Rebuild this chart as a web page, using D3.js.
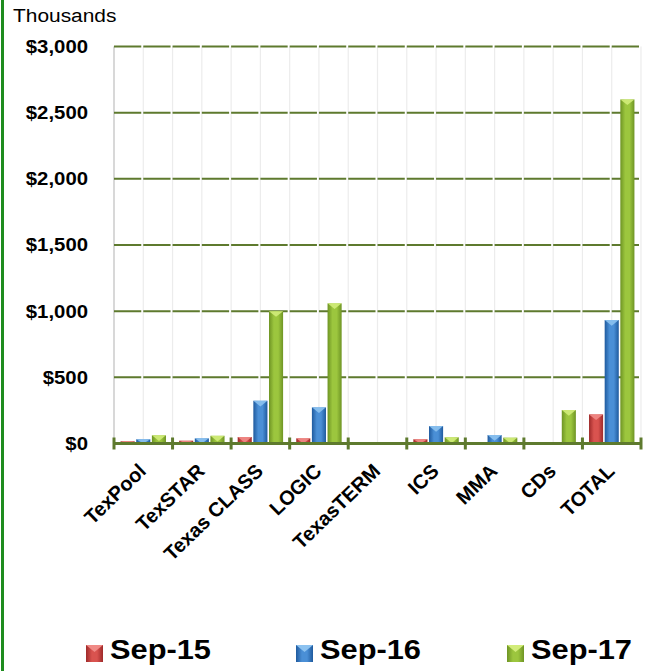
<!DOCTYPE html>
<html>
<head>
<meta charset="utf-8">
<script src="https://cdn.jsdelivr.net/npm/d3@7"></script>
<style>
  body { margin: 0; background: #fff; }
  text { font-family: "Liberation Sans", Arial, sans-serif; }
</style>
</head>
<body>
<div id="chart"></div>
<script>
// values in thousands of dollars
var categories = ["TexPool", "TexSTAR", "Texas CLASS", "LOGIC", "TexasTERM", "ICS", "MMA", "CDs", "TOTAL"];
var seriesNames = ["Sep-15", "Sep-16", "Sep-17"];
var sep15 = [17, 21, 49, 39, 0, 32, 0, 0, 220];
var sep16 = [32, 39, 323, 273, 0, 132, 64, 0, 933];
var sep17 = [62, 58, 1000, 1059, 0, 47, 44, 253, 2600];
var yTicks = [0, 500, 1000, 1500, 2000, 2500, 3000];

var seriesValues = [sep15, sep16, sep17];

var width = 649,
height = 671;

var plotLeft = 114, plotRight = 641, plotTop = 46.5, plotBottom = 443.5;
var stretch = 1.1; // text in the original is a bit wide

// colours: edge, middle, top face
var colors = [
  ['#9e2a2a', '#d9534f', '#f08a86'],
  ['#1f5a9e', '#4a8fd6', '#8cc2f0'],
  ['#6e9424', '#9cc63e', '#d2ec7a']
];

var svg = d3.select("#chart").append("svg")
.attr("width", width)
.attr("height", height);

var defs = svg.append("defs");
colors.forEach(function(c, i) {
  var g = defs.append("linearGradient")
    .attr("id", "grad" + i)
    .attr("x1", "0%").attr("x2", "100%").attr("y1", "0%").attr("y2", "0%");
  g.append("stop").attr("offset", "0%").attr("stop-color", c[0]);
  g.append("stop").attr("offset", "35%").attr("stop-color", c[1]);
  g.append("stop").attr("offset", "65%").attr("stop-color", c[1]);
  g.append("stop").attr("offset", "100%").attr("stop-color", c[0]);
});

// left green border
svg.append("rect")
.attr("x", 1).attr("y", 0)
.attr("width", 3).attr("height", height)
.attr("fill", "#1e8c1e");

var x0 = d3.scaleBand()
.domain(categories)
.range([plotLeft, plotRight])
.padding(0);

var x1 = d3.scaleBand()
.domain(seriesNames)
.range([0, x0.bandwidth()])
.paddingInner(0.1)
.paddingOuter(0.42);

var y = d3.scaleLinear()
.domain([0, 3000])
.range([plotBottom, plotTop]);

// vertical light grid lines every half category
var halfStep = x0.step() / 2;
var vLines = d3.range(0, categories.length * 2 + 1).map(function(i) { return plotLeft + i * halfStep; });
svg.append("g").selectAll("line")
.data(vLines)
.enter().append("line")
.attr("x1", function(d) { return d; })
.attr("x2", function(d) { return d; })
.attr("y1", plotTop)
.attr("y2", plotBottom)
.attr("stroke", function(d, i) { return i == 0 ? "#d8d8d8" : "#ececec"; })
.attr("stroke-width", function(d, i) { return i == 0 ? 2 : 1.2; });

// horizontal grid lines, broken at each vertical line
svg.append("g").selectAll("line")
.data(yTicks.slice(1))
.enter().append("line")
.attr("x1", plotLeft)
.attr("x2", plotRight)
.attr("y1", function(d) { return y(d); })
.attr("y2", function(d) { return y(d); })
.attr("stroke", "#5e7a2e")
.attr("stroke-width", 2)
.attr("stroke-dasharray", (halfStep - 2) + ",2");

// y axis labels
var yAxis = svg.append("g")
.attr("transform", "translate(" + plotLeft + ",0)")
.call(d3.axisLeft(y)
  .tickValues(yTicks)
  .tickSize(0)
  .tickPadding(26)
  .tickFormat(function(d) { return "$" + d3.format(",")(d); }));
yAxis.select(".domain").remove();
yAxis.selectAll("text")
.attr("x", -26 / stretch)
.attr("transform", "scale(" + stretch + ",1)")
.attr("font-size", 18.5)
.attr("font-weight", "bold")
.attr("fill", "#000")
.style("font-family", '"Liberation Sans", Arial, sans-serif');

svg.append("text")
.attr("transform", "translate(13,22) scale(" + stretch + ",1)")
.attr("font-size", 19)
.attr("fill", "#000")
.text("Thousands");

// bars
var groups = svg.append("g").selectAll("g")
.data(categories)
.enter().append("g")
.attr("transform", function(d) { return "translate(" + x0(d) + ",0)"; });

groups.each(function(cat, ci) {
  var g = d3.select(this);
  var data = seriesNames.map(function(s, si) { return { s: s, si: si, v: seriesValues[si][ci] }; })
    .filter(function(d) { return d.v > 0; });
  g.selectAll("rect")
    .data(data)
    .enter().append("rect")
    .attr("x", function(d) { return x1(d.s); })
    .attr("y", function(d) { return y(d.v); })
    .attr("width", x1.bandwidth())
    .attr("height", function(d) { return y(0) - y(d.v); })
    .attr("fill", function(d) { return "url(#grad" + d.si + ")"; });
  g.selectAll("path")
    .data(data)
    .enter().append("path")
    .attr("d", function(d) {
      var bx = x1(d.s), bw = x1.bandwidth(), by = y(d.v);
      var th = Math.min(bw * 0.4, y(0) - by);
      return "M" + bx + "," + by + "L" + (bx + bw) + "," + by + "L" + (bx + bw / 2) + "," + (by + th) + "Z";
    })
    .attr("fill", function(d) { return colors[d.si][2]; })
    .attr("opacity", 0.9);
});

// x axis line and boundary ticks
svg.append("line")
.attr("x1", plotLeft).attr("x2", plotRight)
.attr("y1", plotBottom).attr("y2", plotBottom)
.attr("stroke", "#5e7a2e")
.attr("stroke-width", 3);

var bounds = categories.map(function(c) { return x0(c); }).concat([plotRight]);
svg.append("g").selectAll("line")
.data(bounds)
.enter().append("line")
.attr("x1", function(d) { return d; })
.attr("x2", function(d) { return d; })
.attr("y1", plotBottom - 6)
.attr("y2", plotBottom + 6)
.attr("stroke", "#5e7a2e")
.attr("stroke-width", 3);

// category labels
svg.append("g").selectAll("text")
.data(categories)
.enter().append("text")
.attr("transform", function(d) {
  return "translate(" + (x0(d) + x0.bandwidth() / 2 + 4) + "," + (plotBottom + 29) + ") rotate(-44)";
})
.attr("text-anchor", "end")
.attr("font-size", 20)
.attr("font-weight", "bold")
.attr("fill", "#000")
.text(function(d) { return d; });

// legend
var legendX = [86, 296, 507];
var legend = svg.append("g").selectAll("g")
.data(seriesNames)
.enter().append("g")
.attr("transform", function(d, i) { return "translate(" + legendX[i] + ",645)"; });

legend.append("rect")
.attr("width", 17).attr("height", 17)
.attr("fill", function(d, i) { return "url(#grad" + i + ")"; });
legend.append("path")
.attr("d", "M0,0L17,0L8.5,7Z")
.attr("fill", function(d, i) { return colors[i][2]; });
legend.append("text")
.attr("transform", "translate(24,14) scale(" + stretch + ",1)")
.attr("font-size", 28)
.attr("font-weight", "bold")
.attr("fill", "#000")
.text(function(d) { return d; });
</script>
</body>
</html>
